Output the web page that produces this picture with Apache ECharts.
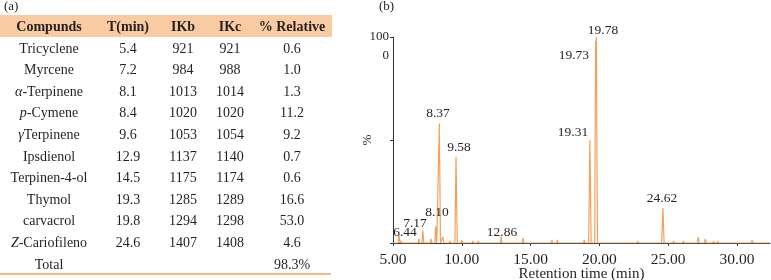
<!DOCTYPE html>
<html>
<head>
<meta charset="utf-8">
<script src="https://cdn.jsdelivr.net/npm/echarts@6/dist/echarts.min.js"></script>
<style>
  html, body { margin: 0; padding: 0; background: #fff; }
  #main { width: 771px; height: 280px; }
</style>
</head>
<body>
<div id="main"></div>
<script>
// (a) table values
const headers = ['Compunds', 'T(min)', 'IKb', 'IKc', '% Relative']
const italicLead = ['', '', 'α', 'p', 'γ', '', '', '', '', 'Z']
const compounds = ['Tricyclene', 'Myrcene', '-Terpinene', '-Cymene', 'Terpinene', 'Ipsdienol', 'Terpinen-4-ol', 'Thymol', 'carvacrol', '-Cariofileno']
const tMin = ['5.4', '7.2', '8.1', '8.4', '9.6', '12.9', '14.5', '19.3', '19.8', '24.6']
const ikb = ['921', '984', '1013', '1020', '1053', '1137', '1175', '1285', '1294', '1407']
const ikc = ['921', '988', '1014', '1020', '1054', '1140', '1174', '1289', '1298', '1408']
const relative = ['0.6', '1.0', '1.3', '11.2', '9.2', '0.7', '0.6', '16.6', '53.0', '4.6']
const totalLabel = 'Total'
const totalRelative = '98.3%'

// (b) chromatogram trace (retention time, % intensity)
const retentionTimes = [5.00, 5.38, 5.44, 5.50, 5.60, 5.68, 6.82, 6.88, 6.94, 7.10, 7.17, 7.24, 7.70, 7.76, 7.82,
  8.04, 8.10, 8.18, 8.30, 8.37, 8.45, 8.56, 8.62, 8.70, 9.08, 9.13, 9.18, 9.50, 9.58, 9.67, 9.95, 10.00, 10.05,
  10.75, 10.80, 10.85, 11.15, 11.20, 11.25, 12.80, 12.86, 12.93, 14.38, 14.44, 14.52, 16.50, 16.55, 16.60,
  16.90, 16.95, 17.00, 18.85, 18.90, 18.95, 19.22, 19.31, 19.40, 19.66, 19.73, 19.75, 19.78, 19.86,
  22.75, 22.80, 22.85, 24.52, 24.62, 24.70, 25.35, 25.40, 25.45, 26.05, 26.10, 26.15, 27.10, 27.18, 27.26,
  27.62, 27.70, 27.78, 28.25, 28.30, 28.35, 28.55, 28.60, 28.65, 31.05, 31.10, 31.15, 32.40]
const intensities = [0, 0, 4, 0, 1, 0, 0, 2, 0, 0, 6, 0, 0, 2, 0,
  0, 8, 0, 0, 58, 0, 0, 3, 0, 0, 1, 0, 0, 42, 0, 0, 1.5, 0,
  0, 1, 0, 0, 1, 0, 0, 3, 0, 0, 2.5, 0, 0, 1.5, 0,
  0, 1.5, 0, 0, 1.5, 0, 0, 50, 0, 0, 98, 92, 100, 0,
  0, 1, 0, 0, 17, 0, 0, 1, 0, 0, 1, 0, 0, 3, 0,
  0, 2, 0, 0, 1, 0, 0, 1, 0, 0, 1.5, 0, 0]

// peak labels: text, x (min), y (%)
const peakLabels = ['6.44', '7.17', '8.10', '8.37', '9.58', '12.86', '19.31', '19.73', '19.78', '24.62']
const peakLabelX = [5.87, 6.6, 8.2, 8.27, 9.8, 12.92, 18.08, 18.15, 20.26, 24.55]
const peakLabelY = [5.3, 9.7, 14.6, 63, 46.6, 5.3, 53.9, 90.8, 103.4, 21.8]

const SERIF = '"Liberation Serif", "DejaVu Serif", serif'
const TEXT = '#231f20'
const ORANGE = '#f5a05a'
const HEADER_FILL = '#f9cba2'

const colX = [49, 128, 183, 230, 292]
const headerY = 27
const rowY0 = 49
const rowStep = 21.6

const chart = echarts.init(document.getElementById('main'))

const graphics = []
graphics.push({ type: 'text', left: 4, top: 0, style: { text: '(a)', font: '13px ' + SERIF, fill: TEXT } })
graphics.push({ type: 'text', left: 379, top: 0, style: { text: '(b)', font: '13px ' + SERIF, fill: TEXT } })
graphics.push({ type: 'rect', shape: { x: 0, y: 15, width: 332, height: 22 }, style: { fill: HEADER_FILL } })
headers.forEach((h, i) => {
  graphics.push({
    type: 'text', x: colX[i], y: headerY,
    style: { text: h, font: 'bold 14px ' + SERIF, fill: TEXT, align: 'center', verticalAlign: 'middle' }
  })
})
const cell = (txt, x, y) => ({
  type: 'text', x, y,
  style: {
    text: txt, font: '14px ' + SERIF, fill: TEXT, align: 'center', verticalAlign: 'middle',
    rich: { i: { fontStyle: 'italic', fontSize: 14, fontFamily: SERIF, fill: TEXT } }
  }
})
compounds.forEach((c, r) => {
  const y = rowY0 + r * rowStep
  const name = italicLead[r] ? '{i|' + italicLead[r] + '}' + c : c
  graphics.push(cell(name, colX[0], y))
  graphics.push(cell(tMin[r], colX[1], y))
  graphics.push(cell(ikb[r], colX[2], y))
  graphics.push(cell(ikc[r], colX[3], y))
  graphics.push(cell(relative[r], colX[4], y))
})
const totalY = rowY0 + compounds.length * rowStep
graphics.push(cell(totalLabel, colX[0], totalY))
graphics.push(cell(totalRelative, colX[4], totalY))
graphics.push({ type: 'line', shape: { x1: 0, y1: 274, x2: 331, y2: 274 }, style: { stroke: ORANGE, lineWidth: 1.5 } })

chart.setOption({
  animation: false,
  textStyle: { fontFamily: SERIF },
  graphic: graphics,
  grid: { left: 393, right: 1, top: 37, bottom: 37, outerBoundsMode: 'none', containLabel: false },
  xAxis: {
    type: 'value',
    min: 5,
    max: 32.4,
    interval: 5,
    name: 'Retention time (min)',
    nameLocation: 'middle',
    nameGap: 24,
    nameMoveOverlap: false,
    nameTextStyle: { fontSize: 15, color: TEXT, fontFamily: SERIF },
    axisLine: { lineStyle: { color: '#333', width: 1 } },
    axisTick: { length: 3, lineStyle: { color: '#333' } },
    axisLabel: {
      fontSize: 15.5, color: TEXT, fontFamily: SERIF, margin: 9, showMaxLabel: false,
      formatter: (v) => v.toFixed(2)
    },
    splitLine: { show: false }
  },
  yAxis: {
    type: 'value',
    min: 0,
    max: 100,
    interval: 50,
    name: '%',
    nameLocation: 'middle',
    nameRotate: 90,
    nameGap: 19,
    nameMoveOverlap: false,
    nameTextStyle: { fontSize: 13, color: TEXT, fontFamily: SERIF },
    axisLine: { show: true, lineStyle: { color: '#333', width: 1 } },
    axisTick: { show: true, length: 3, lineStyle: { color: '#333' } },
    axisLabel: {
      fontSize: 13, color: TEXT, fontFamily: SERIF, margin: 4,
      lineHeight: 19,
      formatter: (v) => (v === 100 ? ' \n100\n0' : '')
    },
    splitLine: { show: false }
  },
  series: [
    {
      type: 'line',
      showSymbol: false,
      z: 3,
      lineStyle: { color: ORANGE, width: 1.2 },
      data: retentionTimes.map((t, i) => [t, intensities[i]])
    },
    {
      type: 'scatter',
      symbolSize: 0,
      silent: true,
      clip: false,
      z: 4,
      itemStyle: { opacity: 1 },
      label: {
        show: true,
        position: 'inside',
        formatter: (p) => peakLabels[p.dataIndex],
        fontSize: 13.5,
        color: TEXT,
        fontFamily: SERIF
      },
      data: peakLabelX.map((x, i) => [x, peakLabelY[i]])
    }
  ]
})
</script>
</body>
</html>
